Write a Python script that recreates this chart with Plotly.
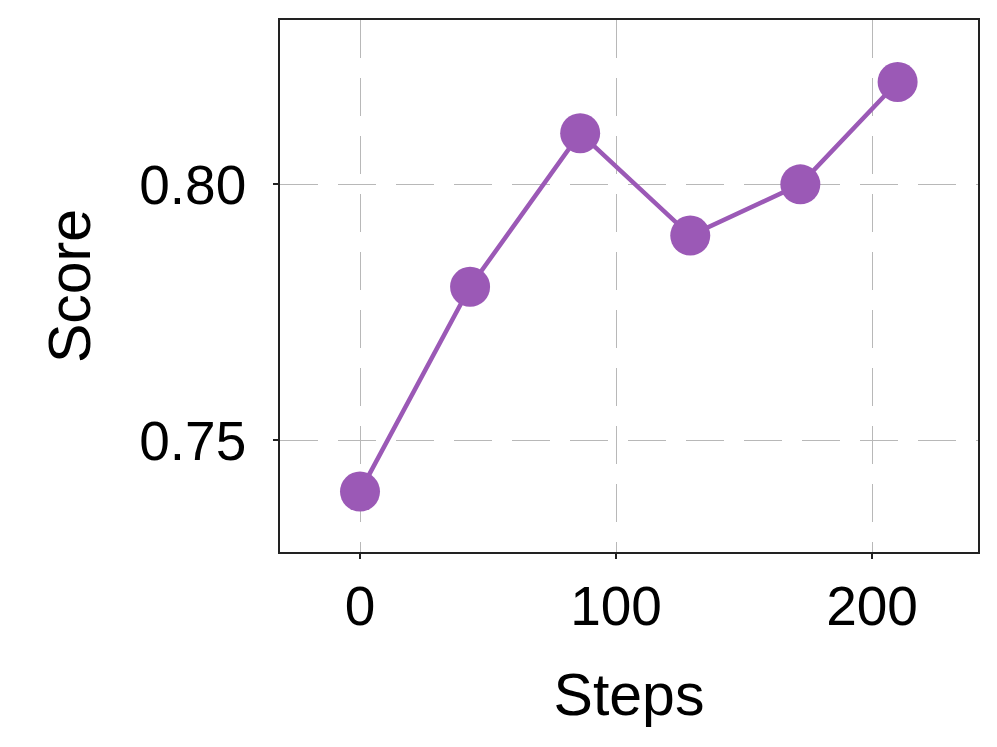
import plotly.graph_objects as go

steps = [0, 43, 86, 129, 172, 210]
scores = [0.74, 0.78, 0.81, 0.79, 0.80, 0.82]
x_ticks = [0, 100, 200]
y_ticks = [0.75, 0.80]
y_tick_labels = ["0.75", "0.80"]

fig = go.Figure()
fig.add_trace(go.Scatter(
    x=steps, y=scores, mode="lines+markers",
    line=dict(color="#9b59b6", width=4.5),
    marker=dict(color="#9b59b6", size=40),
    cliponaxis=False,
))

font_family = "Liberation Sans, Arial, sans-serif"
axis_common = dict(
    showline=True, linecolor="#222", linewidth=1.5, mirror=True,
    ticks="outside", ticklen=5, tickwidth=1.5, tickcolor="#222",
    showgrid=True, gridcolor="#b8b8b8", gridwidth=1.4, griddash="38px,20px",
    zeroline=False,
    tickfont=dict(family=font_family, size=55, color="black"),
    title_font=dict(family=font_family, size=59, color="black"),
)

fig.update_xaxes(range=[-31.25, 241.4], tickvals=x_ticks, title_text="Steps",
                 title_standoff=38, **axis_common)
fig.update_yaxes(range=[0.7282, 0.8321], tickvals=y_ticks, ticktext=y_tick_labels,
                 title_text="Score", title_standoff=30, ticklabelstandoff=16,
                 **axis_common)

fig.update_layout(
    width=989, height=739,
    margin=dict(l=272, r=19, t=10, b=195),
    plot_bgcolor="white", paper_bgcolor="white",
    showlegend=False,
)

fig.write_html("out.html")
